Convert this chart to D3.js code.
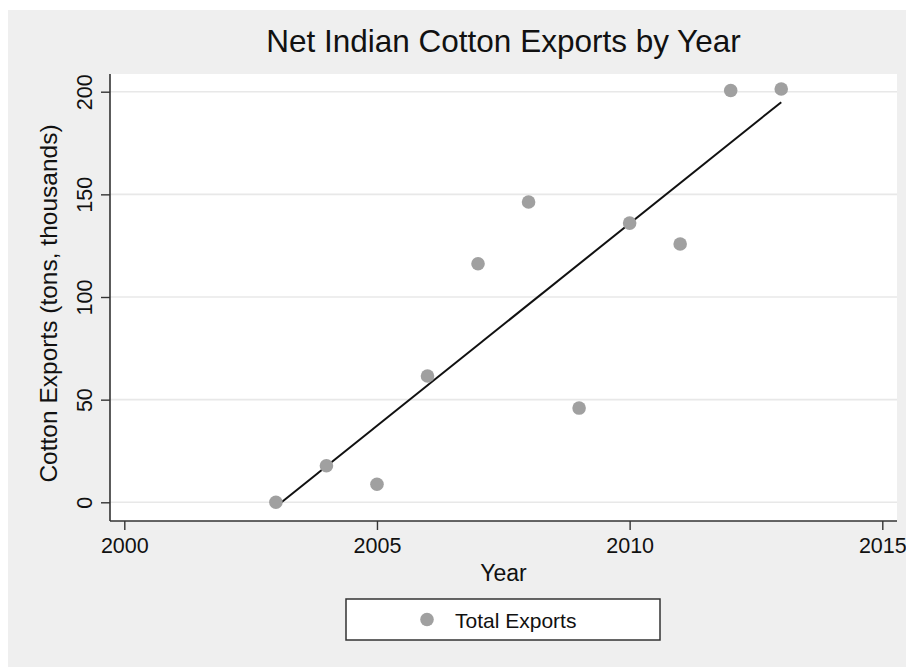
<!DOCTYPE html>
<html>
<head>
<meta charset="utf-8">
<script src="https://cdn.jsdelivr.net/npm/d3@7"></script>
<style>
  html, body { margin: 0; padding: 0; background: #ffffff; }
  svg { display: block; font-family: "Liberation Sans", Arial, Helvetica, sans-serif; }
</style>
</head>
<body>
<svg id="chart" width="906" height="667"></svg>
<script>
// Net Indian cotton exports (tons, thousands) by year
const years = [2003, 2004, 2005, 2006, 2007, 2008, 2009, 2010, 2011, 2012, 2013];
const exportsK = [0, 17.8, 8.8, 61.5, 116.2, 146.3, 45.9, 136, 125.8, 200.6, 201.3];
const xTicks = [2000, 2005, 2010, 2015];
const yTicks = [0, 50, 100, 150, 200];

const svg = d3.select("#chart");
const W = 906, H = 667;

// outer graph region
svg.append("rect").attr("x", 8).attr("y", 10).attr("width", W - 8).attr("height", H - 10)
  .attr("fill", "#efefef");

// plot region
const plot = { left: 110, right: 897, top: 74, bottom: 521 };
svg.append("rect")
  .attr("x", plot.left).attr("y", plot.top)
  .attr("width", plot.right - plot.left).attr("height", plot.bottom - plot.top)
  .attr("fill", "#ffffff");

const x = d3.scaleLinear().domain([2000, 2015]).range([124.3, 882.3]);
const y = d3.scaleLinear().domain([0, 200]).range([502.3, 91.7]);

// horizontal grid lines
svg.append("g").selectAll("line").data(yTicks).join("line")
  .attr("x1", plot.left).attr("x2", plot.right)
  .attr("y1", d => y(d)).attr("y2", d => y(d))
  .attr("stroke", "#e8e8e8").attr("stroke-width", 1.6);

// y axis
const yAxis = svg.append("g").attr("transform", `translate(${plot.left},0)`)
  .call(d3.axisLeft(y).tickValues(yTicks).tickSize(9).tickSizeOuter(0).tickPadding(4));
yAxis.select(".domain").remove();
yAxis.append("line").attr("x1", 0).attr("x2", 0).attr("y1", plot.top).attr("y2", plot.bottom)
  .attr("stroke", "#333").attr("stroke-width", 1.6);
yAxis.selectAll(".tick line").attr("stroke", "#333").attr("stroke-width", 1.4);
yAxis.selectAll(".tick text")
  .attr("transform", "rotate(-90)")
  .attr("x", 0).attr("y", -18).attr("dy", 0)
  .attr("text-anchor", "middle")
  .attr("font-size", 21.5).attr("fill", "#111")
  .attr("font-family", "Liberation Sans, Arial, sans-serif");

// x axis
const xAxis = svg.append("g").attr("transform", `translate(0,${plot.bottom})`)
  .call(d3.axisBottom(x).tickValues(xTicks).tickFormat(d3.format("d")).tickSize(9).tickSizeOuter(0));
xAxis.select(".domain").remove();
xAxis.append("line").attr("x1", plot.left).attr("x2", plot.right).attr("y1", 0).attr("y2", 0)
  .attr("stroke", "#333").attr("stroke-width", 1.6);
xAxis.selectAll(".tick line").attr("stroke", "#333").attr("stroke-width", 1.4);
xAxis.selectAll(".tick text")
  .attr("y", 32).attr("dy", 0)
  .attr("font-size", 21.5).attr("fill", "#111")
  .attr("font-family", "Liberation Sans, Arial, sans-serif");

// linear fit through the points (least squares)
const mx = d3.mean(years), my = d3.mean(exportsK);
const sxy = d3.sum(years, (v, i) => (v - mx) * (exportsK[i] - my));
const sxx = d3.sum(years, v => (v - mx) * (v - mx));
const slope = sxy / sxx, intercept = my - slope * mx;
const fitYears = d3.extent(years);
svg.append("path")
  .datum(fitYears)
  .attr("d", d3.line().x(d => x(d)).y(d => y(intercept + slope * d)))
  .attr("stroke", "#111").attr("stroke-width", 2).attr("fill", "none");

// scatter markers
svg.append("g").selectAll("circle").data(years).join("circle")
  .attr("cx", d => x(d)).attr("cy", (d, i) => y(exportsK[i]))
  .attr("r", 6.8).attr("fill", "#a0a0a0");

// title
svg.append("text").attr("x", (plot.left + plot.right) / 2).attr("y", 52)
  .attr("text-anchor", "middle").attr("font-size", 31.5).attr("fill", "#111")
  .text("Net Indian Cotton Exports by Year");

// axis titles
svg.append("text").attr("x", (plot.left + plot.right) / 2).attr("y", 581)
  .attr("text-anchor", "middle").attr("font-size", 23).attr("fill", "#111")
  .text("Year");
svg.append("text")
  .attr("transform", `translate(57,${(plot.top + plot.bottom) / 2 + 6}) rotate(-90)`)
  .attr("text-anchor", "middle").attr("font-size", 24.5).attr("fill", "#111")
  .text("Cotton Exports (tons, thousands)");

// legend
const lg = svg.append("g");
lg.append("rect").attr("x", 346).attr("y", 599).attr("width", 314).attr("height", 41)
  .attr("fill", "#ffffff").attr("stroke", "#333").attr("stroke-width", 1.5);
lg.append("circle").attr("cx", 427).attr("cy", 619.5).attr("r", 6.8).attr("fill", "#a0a0a0");
lg.append("text").attr("x", 455).attr("y", 627.5).attr("font-size", 21).attr("fill", "#111")
  .text("Total Exports");
</script>
</body>
</html>
